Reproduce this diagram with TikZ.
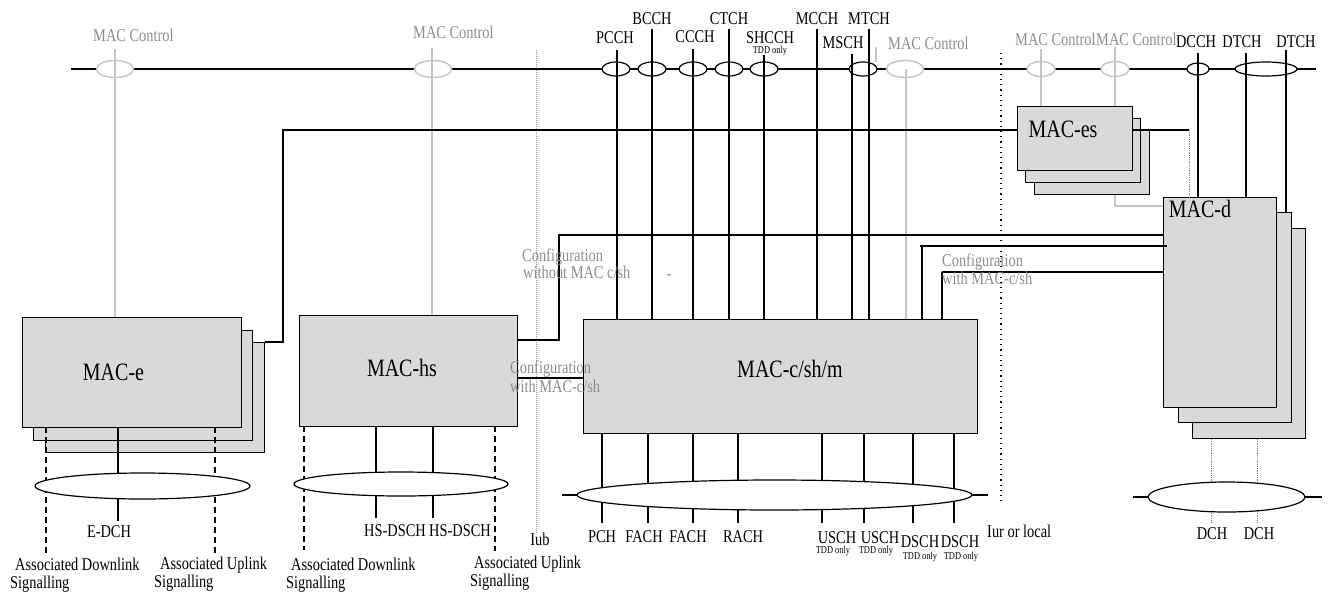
\documentclass[tikz,border=0pt]{standalone}
\usepackage{fontspec}
\setmainfont{Liberation Serif}[FakeStretch=0.8]
\usetikzlibrary{shapes.geometric,calc}
\definecolor{boxfill}{HTML}{D9D9D9}
\definecolor{ctlgray}{HTML}{C4C4C4}
\definecolor{txtgray}{HTML}{8C8C8C}
\begin{document}
\begin{tikzpicture}[x=1pt,y=-1pt,
 blk/.style={draw=black,line width=1.1pt},
 ctl/.style={draw=ctlgray,line width=1.4pt},
 dsh/.style={draw=black,line width=1.1pt,dash pattern=on 6pt off 4pt},
 gdot/.style={draw=gray,line width=0.9pt,dash pattern=on 1pt off 0.8pt},
 iubline/.style={draw=gray!80,line width=0.8pt,dash pattern=on 1pt off 1pt},
 iurline/.style={draw=black,line width=1.2pt,dash pattern=on 1.2pt off 4pt},
 boxn/.style={draw=black,line width=1.2pt,fill=boxfill,rectangle,inner sep=0pt,anchor=north west},
 chell/.style={ellipse,draw=black,line width=1.2pt,fill=white,inner sep=0pt,minimum width=28pt,minimum height=14pt},
 ctlell/.style={ellipse,draw=ctlgray,line width=1.4pt,fill=white,inner sep=0pt,minimum width=37pt,minimum height=17pt},
 bigell/.style={ellipse,draw=black,line width=1.2pt,fill=white,inner sep=0pt},
 lbl/.style={font=\fontsize{18}{18.5}\selectfont,inner sep=0pt,anchor=base},
 lblw/.style={lbl,anchor=base west},
 glbl/.style={lbl,text=txtgray,anchor=base west},
 big/.style={font=\fontsize{25}{26}\selectfont,inner sep=0pt,anchor=base},
 tdd/.style={font=\fontsize{10.5}{11}\selectfont,inner sep=0pt,anchor=base},
]
\useasboundingbox (0,0) rectangle (1329,592);

% ---- dotted interface lines
\draw[iubline] (536,50) coordinate (iubT) -- (536,534) coordinate (iubB);
\draw[iurline] (1001,53) coordinate (iurT) -- (1001,505) coordinate (iurB);

% ---- boxes
\node[boxn,minimum width=219pt,minimum height=110pt] (mace3) at (45,342) {};
\node[boxn,minimum width=219pt,minimum height=110pt] (mace2) at (33,330) {};
\node[boxn,minimum width=219pt,minimum height=110pt] (mace) at (22,317) {};
\node[boxn,minimum width=218pt,minimum height=111pt] (machs) at (299,315) {};
\node[boxn,minimum width=394pt,minimum height=114pt] (macc) at (583,319) {};
\node[boxn,minimum width=115pt,minimum height=64pt] (maces3) at (1034,130) {};
\node[boxn,minimum width=115pt,minimum height=64pt] (maces2) at (1025,118) {};
\node[boxn,minimum width=115pt,minimum height=64pt] (maces) at (1017,106) {};
\node[boxn,minimum width=113pt,minimum height=210pt] (macd3) at (1192,228) {};
\node[boxn,minimum width=113pt,minimum height=210pt] (macd2) at (1178,212) {};
\node[boxn,minimum width=113pt,minimum height=210pt] (macd) at (1163,197) {};

\node[big] (lmace) at (113.5,380) {MAC-e};
\node[big] (lmachs) at (402,376) {MAC-hs};
\node[big] (lmacc) at (790,377) {MAC-c/sh/m};
\node[big] (lmaces) at (1063,137) {MAC-es};
\node[big] (lmacd) at (1200,217) {MAC-d};

% ---- top bus
\draw[blk] (71,69) coordinate (busL) -- (1316,69) coordinate (busR);
\node[ctlell] (c1) at (115,69) {};
\node[ctlell] (c2) at (433,69) {};
\node[ctlell] (c3) at (905,69) {};
\node[ctlell,minimum width=28pt,minimum height=15pt] (c4) at (1041,69) {};
\node[ctlell,minimum width=28pt,minimum height=15pt] (c5) at (1115,69) {};
\node[chell] (epcch) at (616,69) {};
\node[chell] (ebcch) at (652,69) {};
\node[chell] (eccch) at (693,69) {};
\node[chell] (ectch) at (729,69) {};
\node[chell] (eshcch) at (764,69) {};
\node[chell] (emtch) at (863,69) {};
\node[chell,minimum width=22pt,minimum height=12pt] (edcch) at (1198,69) {};
\node[chell,minimum width=62pt] (edtch) at (1266,69) {};

% ---- MAC control (gray)
\draw[ctl] (115,49) coordinate (c1t) -- (c1t |- mace.north);
\draw[ctl] (432,48) coordinate (c2t) -- (c2t |- machs.north);
\draw[ctl] (906,69) coordinate (c3t) -- (c3t |- macc.north);
\draw[ctl] (876,47) coordinate (c3k) -- (876,62) coordinate (c3kb);
\draw[ctl] (1041,49) coordinate (c4t) -- (c4t |- maces.north);
\draw[ctl] (1115,47) coordinate (c5t) -- (c5t |- maces.north);
\draw[ctl] (c5t |- maces3.south) -- (1115,206) coordinate (c5c) -- (c5c -| macd.west);

% ---- logical channels into MAC-c/sh/m
\draw[blk] (617,50) coordinate (pcchT) -- (pcchT |- macc.north);
\draw[blk] (652,29) coordinate (bcchT) -- (bcchT |- macc.north);
\draw[blk] (693,49) coordinate (ccchT) -- (ccchT |- macc.north);
\draw[blk] (729,29) coordinate (ctchT) -- (ctchT |- macc.north);
\draw[blk] (764,55) coordinate (shcchT) -- (shcchT |- macc.north);
\draw[blk] (817,29) coordinate (mcchT) -- (mcchT |- macc.north);
\draw[blk] (852,54) coordinate (mschT) -- (mschT |- macc.north);
\draw[blk] (869,29) coordinate (mtchT) -- (mtchT |- macc.north);

% ---- dedicated channels into MAC-d
\draw[blk] (1198,53) coordinate (dcchT) -- (dcchT |- macd.north);
\draw[blk] (1246,53) coordinate (dtchT) -- (dtchT |- macd.north);
\draw[blk] (1286,50) coordinate (dtchU) -- (dtchU |- macd2.north);

% ---- interconnections
\draw[blk] (mace3.north east) -- (283,342) coordinate (eUp) -- (283,130) coordinate (eTop) -- (maces.west |- eTop);
\draw[blk] (maces.north east |- eTop) -- (1189,130) coordinate (esR);
\draw[gdot] (esR) -- (esR |- macd.north);
\draw[blk] ($(machs.north east)+(0,25)$) coordinate (hsA) -- (559,340) -- (559,235) coordinate (cfgA) -- (cfgA -| macd.west);
\draw[blk] (920,246) coordinate (cfgB0) -- (1167,246) coordinate (cfgB1);
\draw[blk] (922,246) coordinate (cfgB) -- (cfgB |- macc.north);
\draw[blk] (942,272) coordinate (cfgC) -- (cfgC -| macd.west);
\draw[blk] (cfgC) -- (cfgC |- macc.north);
\draw[blk] ($(machs.north east)+(0,63)$) coordinate (cfgD) -- (cfgD -| macc.west);

% ---- MAC-e bottom
\draw[dsh] (46,427) coordinate (eda) -- (46,553);
\draw[blk] (118,427) coordinate (edch) -- (118,521);
\draw[dsh] (215,427) coordinate (eua) -- (215,553);
\node[bigell,minimum width=215pt,minimum height=26pt] (ellE) at (142.5,486) {};

% ---- MAC-hs bottom
\draw[dsh] (304,426) coordinate (hda) -- (304,550);
\draw[blk] (376,426) coordinate (hs1) -- (376,518);
\draw[blk] (433,426) coordinate (hs2) -- (433,518);
\draw[dsh] (495,426) coordinate (hua) -- (495,551);
\node[bigell,minimum width=214pt,minimum height=24pt] (ellH) at (401,484) {};

% ---- MAC-c bottom
\draw[blk] (562,495) coordinate (cbL) -- (988,495) coordinate (cbR);
\foreach \xx/\nm in {602/a,648/b,693/c,738/d,822/e,864/f,913/g,954/h}
  \draw[blk] (\xx,433) coordinate (cb\nm) -- (\xx,523);
\node[bigell,minimum width=395pt,minimum height=30pt] (ellC) at (774.5,495) {};

% ---- MAC-d bottom
\draw[blk] (1133,497) coordinate (dbL) -- (1322,497) coordinate (dbR);
\draw[gdot] (1211,439) coordinate (dch1) -- (1211,522);
\draw[gdot] (1257,439) coordinate (dch2) -- (1257,522);
\node[bigell,minimum width=157pt,minimum height=30pt] (ellD) at (1226.5,497) {};

% ---- top labels
\node[glbl] (lc1) at (93,41) {MAC Control};
\node[glbl] (lc2) at (413,38) {MAC Control};
\node[glbl] (lc3) at (888,49) {MAC Control};
\node[glbl] (lc4) at (1015,45) {MAC Control};
\node[glbl] (lc5) at (1096,45) {MAC Control};
\node[lbl] (lpcch) at (615,43) {PCCH};
\node[lbl] (lbcch) at (652,24) {BCCH};
\node[lbl] (lccch) at (695,42) {CCCH};
\node[lbl] (lctch) at (729,24) {CTCH};
\node[lbl] (lshcch) at (770,43) {SHCCH};
\node[tdd] (lshtdd) at (770,53) {TDD only};
\node[lbl] (lmcch) at (817,24) {MCCH};
\node[lbl] (lmsch) at (843,48) {MSCH};
\node[lbl] (lmtch) at (869,24) {MTCH};
\node[lbl,fill=white] (ldcch) at (1196,47) {DCCH};
\node[lbl] (ldtch) at (1242,47) {DTCH};
\node[lbl] (ldtch2) at (1296,47) {DTCH};

% ---- configuration labels
\node[glbl] (cfg1a) at (522,261) {Configuration};
\node[glbl] (cfg1b) at (523,278) {without MAC c/sh};
\node[lbl,text=txtgray] (dash) at (669,279) {-};
\node[glbl] (cfg2a) at (510,373) {Configuration};
\node[glbl] (cfg2b) at (510,392) {with MAC-c/sh};
\node[glbl] (cfg3a) at (942,266) {Configuration};
\node[glbl] (cfg3b) at (942,284) {with MAC-c/sh};

% ---- bottom labels
\node[lbl] (ledch) at (109,537) {E-DCH};
\node[lblw] (lead1) at (15,570) {Associated Downlink};
\node[lblw] (lead2) at (10,588) {Signalling};
\node[lblw] (leau1) at (160,569) {Associated Uplink};
\node[lblw] (leau2) at (154,587) {Signalling};
\node[lbl] (lhs1) at (395,536) {HS-DSCH};
\node[lbl] (lhs2) at (460,536) {HS-DSCH};
\node[lblw] (lhd1) at (291,570) {Associated Downlink};
\node[lblw] (lhd2) at (286,588) {Signalling};
\node[lblw] (lhu1) at (474,568) {Associated Uplink};
\node[lblw] (lhu2) at (470,586) {Signalling};
\node[lbl] (liub) at (540,545) {Iub};
\node[lbl] (lpch) at (602,542) {PCH};
\node[lbl] (lfach1) at (644,542) {FACH};
\node[lbl] (lfach2) at (688,542) {FACH};
\node[lbl] (lrach) at (743,542) {RACH};
\node[lbl] (lusch1) at (837,543) {USCH};
\node[tdd] (tusch1) at (833,553) {TDD only};
\node[lbl] (lusch2) at (880,543) {USCH};
\node[tdd] (tusch2) at (876,553) {TDD only};
\node[lbl] (ldsch1) at (920,547) {DSCH};
\node[tdd] (tdsch1) at (920,559) {TDD only};
\node[lbl] (ldsch2) at (960,547) {DSCH};
\node[tdd] (tdsch2) at (961,559) {TDD only};
\node[lblw] (liur) at (987,537) {Iur or local};
\node[lbl] (ldch1) at (1212,539) {DCH};
\node[lbl] (ldch2) at (1259,539) {DCH};
\end{tikzpicture}
\end{document}
